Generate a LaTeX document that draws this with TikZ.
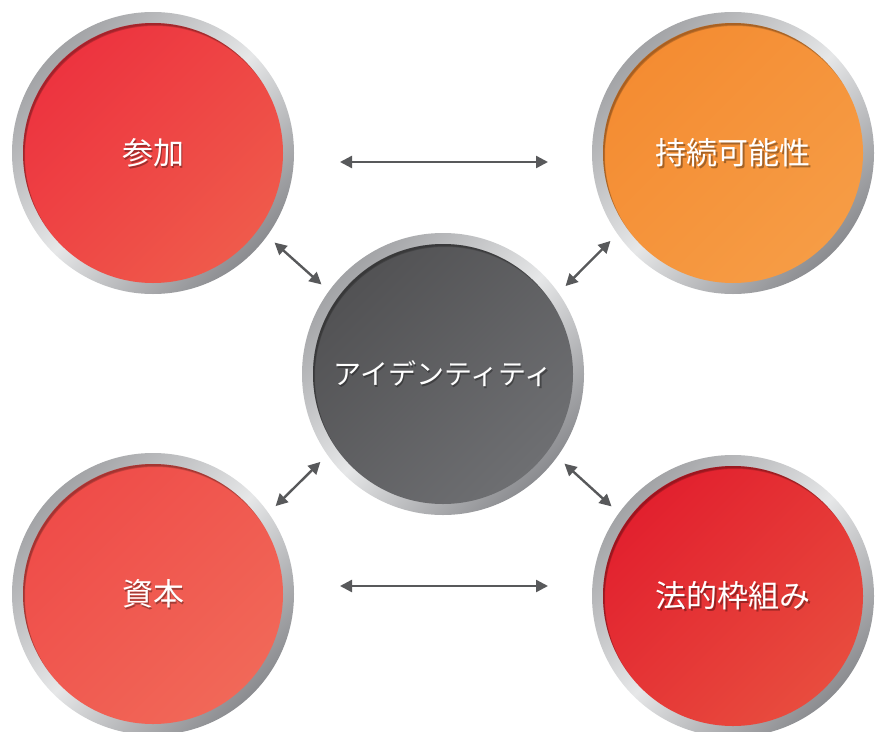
\documentclass[tikz,border=0pt]{standalone}
\usepackage{fontspec}
\newfontfamily\jp{Noto Sans CJK JP}
\usetikzlibrary{arrows.meta}
\definecolor{ringA}{HTML}{9A9B9E}
\definecolor{ringB}{HTML}{E6E7E8}
\definecolor{ringC}{HTML}{808185}
\definecolor{arrowgray}{HTML}{58595B}
\definecolor{redA}{HTML}{ED333F}
\definecolor{redB}{HTML}{EF5A4B}
\definecolor{orA}{HTML}{F48C32}
\definecolor{orB}{HTML}{F69C45}
\definecolor{salA}{HTML}{EF4C49}
\definecolor{salB}{HTML}{F16858}
\definecolor{crA}{HTML}{E2202E}
\definecolor{crB}{HTML}{E84C3E}
\definecolor{grA}{HTML}{525254}
\definecolor{grB}{HTML}{6E6F72}
\pgfdeclarehorizontalshading{ringsh}{100bp}{color(0bp)=(ringA); color(22bp)=(ringA); color(50bp)=(ringB); color(78bp)=(ringC); color(100bp)=(ringC)}
\pgfdeclarehorizontalshading{shTL}{100bp}{color(0bp)=(redA); color(25bp)=(redA); color(75bp)=(redB); color(100bp)=(redB)}
\pgfdeclarehorizontalshading{shTR}{100bp}{color(0bp)=(orA); color(25bp)=(orA); color(75bp)=(orB); color(100bp)=(orB)}
\pgfdeclarehorizontalshading{shBL}{100bp}{color(0bp)=(salA); color(25bp)=(salA); color(75bp)=(salB); color(100bp)=(salB)}
\pgfdeclarehorizontalshading{shBR}{100bp}{color(0bp)=(crA); color(25bp)=(crA); color(75bp)=(crB); color(100bp)=(crB)}
\pgfdeclarehorizontalshading{shC}{100bp}{color(0bp)=(grA); color(25bp)=(grA); color(75bp)=(grB); color(100bp)=(grB)}
\tikzset{
  holder/.style={circle, minimum size=282pt, inner sep=0pt, outer sep=0pt},
  txt/.style={text=white, inner sep=0pt, font=\jp\fontsize{31}{31}\selectfont},
  ctxt/.style={text=white, inner sep=0pt, font=\jp\fontsize{28}{28}\selectfont},
  shd/.style={text=black, opacity=0.33},
  arr/.style={draw=arrowgray, line width=2.4pt,
    {Triangle[length=12pt,width=12pt]}-{Triangle[length=12pt,width=12pt]},
    shorten <=10pt, shorten >=10pt},
}
\newcommand{\ringdisc}[2]{%
  \shade[shading=ringsh, shading angle=-45] (#1.center) circle[radius=141pt];
  \shade[shading=#2, shading angle=-45] (#1.center) circle[radius=130pt];
  \begin{scope}
    \clip (#1.center) circle[radius=130pt];
    \draw[line width=6pt, black, opacity=0.10] ([shift={(2.5,3.5)}]#1.center) circle[radius=134pt];
    \draw[line width=4pt, black, opacity=0.12] ([shift={(2,3)}]#1.center) circle[radius=132pt];
    \draw[line width=2pt, black, opacity=0.12] ([shift={(1.5,2)}]#1.center) circle[radius=131pt];
  \end{scope}}
\begin{document}
\begin{tikzpicture}[x=1pt,y=-1pt]
\useasboundingbox (0,0) rectangle (883,731);
\fill[white] (0,0) rectangle (883,731);
% circle holders
\node[holder] (tl) at (153,153) {};
\node[holder] (tr) at (733,153) {};
\node[holder] (bl) at (153,594) {};
\node[holder] (br) at (733,596) {};
\node[holder] (c) at (443,374) {};
\ringdisc{tl}{shTL}
\ringdisc{tr}{shTR}
\ringdisc{bl}{shBL}
\ringdisc{br}{shBR}
\ringdisc{c}{shC}
% texts with shadows
\node[txt,shd] (tls) at ([shift={(1.5,1.5)}]tl.center) {参加};
\node[txt] (tlt) at (tl.center) {参加};
\node[txt,shd] (trs) at ([shift={(1.5,1.5)}]tr.center) {持続可能性};
\node[txt] (trt) at (tr.center) {持続可能性};
\node[txt,shd] (bls) at ([shift={(1.5,1.5)}]bl.center) {資本};
\node[txt] (blt) at (bl.center) {資本};
\node[txt,shd] (brs) at ([shift={(1.5,1.5)}]br.center) {法的枠組み};
\node[txt] (brt) at (br.center) {法的枠組み};
\node[ctxt,shd] (cs) at ([shift={(1.5,1.5)}]c.center) {アイデンティティ};
\node[ctxt] (ct) at (c.center) {アイデンティティ};
% connectors
\draw[arr, shorten <=46pt, shorten >=44pt] ([yshift=-9pt]tl.east) -- ([yshift=-9pt]tr.west);
\draw[arr, shorten <=46pt, shorten >=44pt] ([yshift=8pt]bl.east) -- ([yshift=10pt]br.west);
\draw[arr] (tl.-36) -- (c.144);
\draw[arr] (tr.215) -- (c.35);
\draw[arr] (bl.35) -- (c.215);
\draw[arr] (c.-36) -- (br.144);
\end{tikzpicture}
\end{document}
